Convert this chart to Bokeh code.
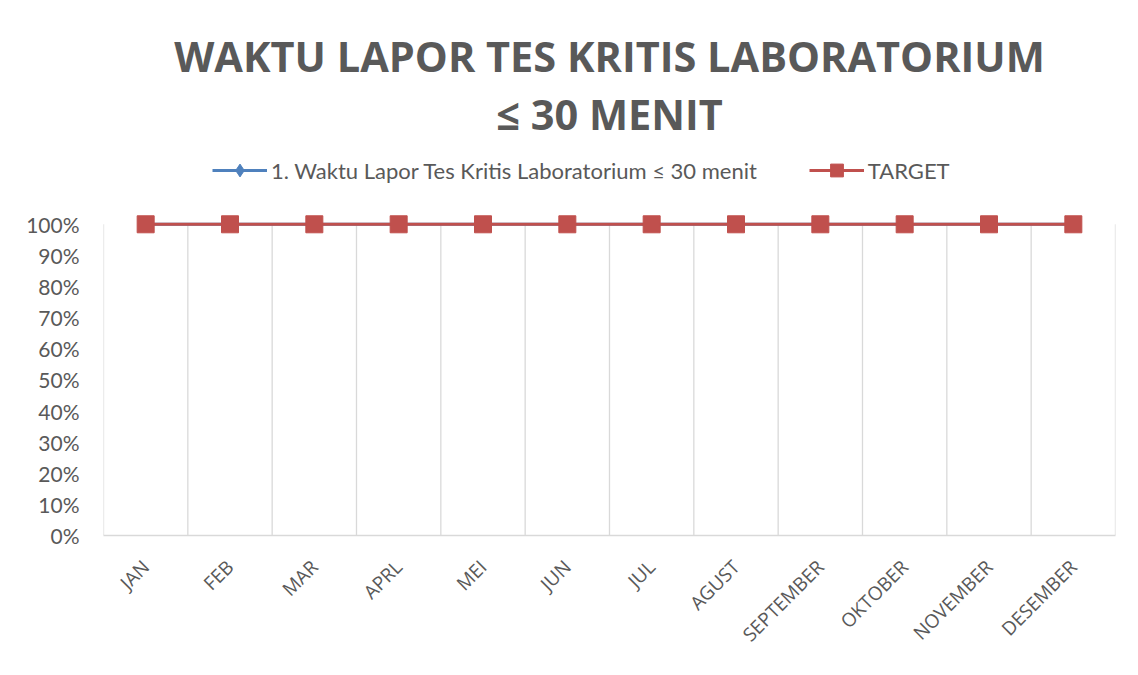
import numpy as np
from bokeh.plotting import figure
from bokeh.models import (Range1d, FactorRange, FixedTicker, NumeralTickFormatter,
                          Legend, LegendItem, Title)
from bokeh.embed import file_html
from bokeh.resources import INLINE

# ---- data ----
months = ["JAN", "FEB", "MAR", "APRL", "MEI", "JUN", "JUL", "AGUST",
          "SEPTEMBER", "OKTOBER", "NOVEMBER", "DESEMBER"]
capaian = [1.0, 1.0, 1.0, 1.0, 1.0, 1.0, 1.0, 1.0, 1.0, 1.0, 1.0, 1.0]
target = [1.0, 1.0, 1.0, 1.0, 1.0, 1.0, 1.0, 1.0, 1.0, 1.0, 1.0, 1.0]
y_ticks = [0.0, 0.1, 0.2, 0.3, 0.4, 0.5, 0.6, 0.7, 0.8, 0.9, 1.0]
series_name = "1. Waktu Lapor Tes Kritis Laboratorium \u2264 30 menit"
target_name = "TARGET"
title_line1 = "WAKTU LAPOR TES KRITIS LABORATORIUM"
title_line2 = "\u2264 30 MENIT"

GREY = "#595959"
GRID = "#d9d9d9"
BLUE = "#4f81bd"
RED = "#c0504d"

p = figure(x_range=FactorRange(*months, range_padding=0),
           y_range=Range1d(0, 1.266),
           width=1122, height=659,
           min_border_left=103, min_border_right=7,
           min_border_top=141, min_border_bottom=123,
           output_backend="svg", toolbar_location=None, title_location=None)
p.outline_line_color = None
p.xgrid.visible = False
p.ygrid.visible = False

# vertical gridlines at category boundaries
bounds = np.arange(len(months) + 1)
p.segment(x0=bounds, y0=[min(y_ticks)] * len(bounds), x1=bounds, y1=[max(y_ticks)] * len(bounds),
          line_color=GRID, line_width=1.3, level="underlay")

# series
bl = p.line(months, capaian, line_color=BLUE, line_width=3)
bm = p.scatter(months, capaian, marker="diamond", size=14, fill_color=BLUE, line_color=BLUE)
rl = p.line(months, target, line_color=RED, line_width=3)
rm = p.scatter(months, target, marker="square", size=17, fill_color=RED, line_color=RED)

# axes
p.yaxis.ticker = FixedTicker(ticks=y_ticks)
p.yaxis.formatter = NumeralTickFormatter(format="0%")
p.yaxis.axis_line_color = None
p.yaxis.major_tick_line_color = None
p.yaxis.minor_tick_line_color = None
p.yaxis.major_label_text_font = "Lato"
p.yaxis.major_label_text_font_size = "21px"
p.yaxis.major_label_text_color = GREY
p.yaxis.major_label_standoff = 18

p.xaxis.axis_line_color = GRID
p.xaxis.axis_line_width = 1.5
p.xaxis.major_tick_line_color = None
p.xaxis.minor_tick_line_color = None
p.xaxis.major_label_orientation = np.pi / 4
p.xaxis.major_label_text_font = "Open Sans"
p.xaxis.major_label_text_font_size = "19px"
p.xaxis.major_label_text_color = GREY
p.xaxis.major_label_standoff = 22

legend = Legend(items=[LegendItem(label=series_name, renderers=[bl, bm]),
                       LegendItem(label=target_name, renderers=[rl, rm])],
                orientation="horizontal", location=(109, 349),
                border_line_color=None, background_fill_alpha=0,
                glyph_width=55, glyph_height=32, label_standoff=4,
                label_text_font="Lato", label_text_font_size="22px",
                label_text_color=GREY, spacing=52, margin=0, padding=0)
p.add_layout(legend, "center")

for txt, so in ((title_line2, 0), (title_line1, 0)):
    p.add_layout(Title(text=txt, align="center", text_font="Open Sans",
                       text_font_size="41.5px", text_font_style="bold",
                       text_line_height=1.0, text_color=GREY, standoff=so), "above")

open("out.html", "w").write(file_html(p, INLINE))
